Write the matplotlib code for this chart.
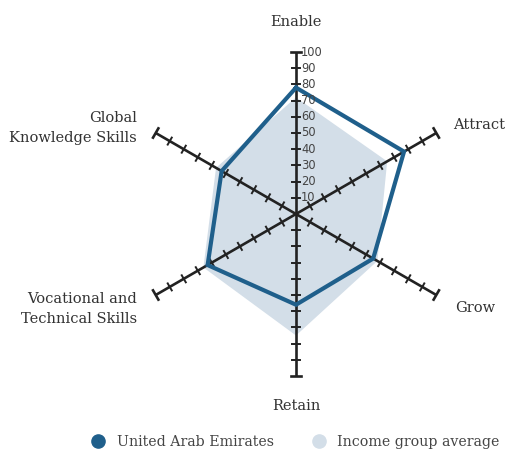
import numpy as np
import matplotlib.pyplot as plt
from matplotlib.lines import Line2D

categories = ['Enable', 'Attract', 'Grow', 'Retain',
              'Vocational and\nTechnical Skills', 'Global\nKnowledge Skills']
angles_deg = [90, 30, -30, -90, 210, 150]
uae = [78, 77, 55, 56, 63, 53]
income_avg = [72, 65, 58, 75, 66, 57]
tick_values = [10, 20, 30, 40, 50, 60, 70, 80, 90, 100]

UAE_COLOR = '#1f5f8b'
AVG_COLOR = '#d3dee8'
AXIS_COLOR = '#222222'
TEXT_COLOR = '#333333'

W, H = 509, 453
CX, CY = 296, 214
SCALE = 1.62  # pixels per value unit

fig = plt.figure(figsize=(W / 100, H / 100), dpi=100)
ax = fig.add_axes([0, 0, 1, 1])
ax.set_xlim(-CX / SCALE, (W - CX) / SCALE)
ax.set_ylim((CY - H) / SCALE, CY / SCALE)
ax.set_aspect('equal')
ax.axis('off')

theta = np.radians(angles_deg)


def to_xy(vals):
    vals = np.asarray(vals, dtype=float)
    return vals * np.cos(theta), vals * np.sin(theta)


# income group average (filled)
x, y = to_xy(income_avg)
ax.fill(np.append(x, x[0]), np.append(y, y[0]), color=AVG_COLOR, lw=0, zorder=1)

# axes with tick marks
for t in theta:
    ux, uy = np.cos(t), np.sin(t)
    px, py = -uy, ux
    ax.plot([0, 100 * ux], [0, 100 * uy], color=AXIS_COLOR, lw=1.9, zorder=2,
            solid_capstyle='butt')
    for v in tick_values:
        half = 3.3 if v == 100 else 2.5
        ax.plot([v * ux - half * px, v * ux + half * px],
                [v * uy - half * py, v * uy + half * py],
                color=AXIS_COLOR, lw=1.9 if v == 100 else 1.4, zorder=2)

# value labels on the Enable axis
for v in tick_values:
    ax.text(3.2, v, str(v), fontsize=8.3, color='#444444', va='center', ha='left',
            family='DejaVu Sans', zorder=5)

# UAE line
x, y = to_xy(uae)
ax.plot(np.append(x, x[0]), np.append(y, y[0]), color=UAE_COLOR, lw=3.0,
        solid_joinstyle='miter', zorder=4)


def px2data(pxx, pyy):
    return (pxx - CX) / SCALE, (CY - pyy) / SCALE


label_kw = dict(fontsize=10.5, color=TEXT_COLOR, family='DejaVu Serif', linespacing=1.5)
ax.text(*px2data(296, 22), categories[0], ha='center', va='center', **label_kw)
ax.text(*px2data(453, 125), categories[1], ha='left', va='center', **label_kw)
ax.text(*px2data(455, 308), categories[2], ha='left', va='center', **label_kw)
ax.text(*px2data(296, 406), categories[3], ha='center', va='center', **label_kw)
ax.text(*px2data(137, 309), categories[4], ha='right', va='center', multialignment='right', **label_kw)
ax.text(*px2data(137, 128), categories[5], ha='right', va='center', multialignment='right', **label_kw)

handles = [
    Line2D([], [], marker='o', ls='', color=UAE_COLOR, markersize=9.5),
    Line2D([], [], marker='o', ls='', color=AVG_COLOR, markersize=9.5),
]
leg = fig.legend(handles, ['United Arab Emirates', 'Income group average'],
                 loc='center', bbox_to_anchor=(292 / W, 1 - 442 / H), ncol=2,
                 frameon=False, handletextpad=0.3, columnspacing=2.2,
                 prop={'family': 'DejaVu Serif', 'size': 10.2})
for txt in leg.get_texts():
    txt.set_color('#444444')

fig.savefig('out.png', dpi=100)
